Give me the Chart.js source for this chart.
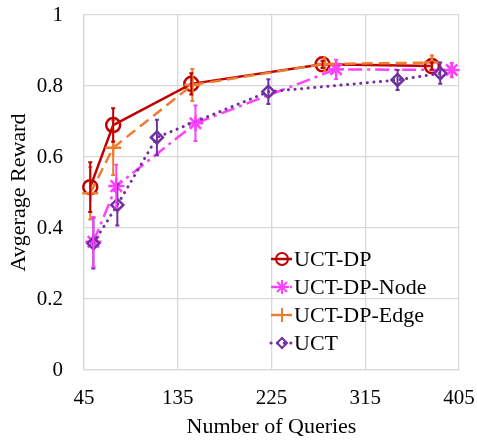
<!DOCTYPE html>
<html>
<head>
<meta charset="utf-8">
<script src="https://cdn.jsdelivr.net/npm/chart.js@4/dist/chart.umd.min.js"></script>
<style>
  html, body { margin: 0; padding: 0; background: #fff; }
  #wrap { width: 477px; height: 442px; }
</style>
</head>
<body>
<div id="wrap"><canvas id="chart-queries"></canvas></div>
<script>
// datos
const xTicks = [45, 135, 225, 315, 405];
const yTicks = [0, 0.2, 0.4, 0.6, 0.8, 1];

const dpX = [51, 73, 148, 274, 379];
const dpY = [0.515, 0.69, 0.806, 0.861, 0.856];
const dpErr = [0.07, 0.047, 0.03, 0.01, 0.01];

const nodeX = [54, 76, 152, 287, 398];
const nodeY = [0.361, 0.518, 0.695, 0.847, 0.845];
const nodeErr = [0.07, 0.06, 0.05, 0.027, 0.02];

const edgeX = [51, 73, 149, 276, 379];
const edgeY = [0.498, 0.626, 0.803, 0.862, 0.866];
const edgeErr = [0.074, 0.077, 0.045, 0.012, 0.02];

const uctX = [54, 77, 115, 222, 346, 387];
const uctY = [0.357, 0.465, 0.655, 0.784, 0.817, 0.836];
const uctErr = [0.071, 0.058, 0.05, 0.035, 0.028, 0.03];

const FONT = "'Liberation Serif', 'Times New Roman', serif";

function toPoints(xs, ys) {
  return xs.map((x, i) => ({ x: x, y: ys[i] }));
}

const series = [
  { label: "UCT-DP", xs: dpX, ys: dpY, err: dpErr, color: "#C00000",
    dash: [], style: "circle", radius: 7, width: 2.5, order: 4 },
  { label: "UCT-DP-Node", xs: nodeX, ys: nodeY, err: nodeErr, color: "#FF40FF",
    dash: [14, 5, 3, 5], style: "star", radius: 8, width: 2.5, order: 3 },
  { label: "UCT-DP-Edge", xs: edgeX, ys: edgeY, err: edgeErr, color: "#ED7D31",
    dash: [11, 6], style: "cross", radius: 8, width: 2.5, order: 2 },
  { label: "UCT", xs: uctX, ys: uctY, err: uctErr, color: "#7030A0",
    dash: [0.1, 6.5], style: "rectRot", radius: 6, width: 3, order: 1 },
];

// barras de error, dibujadas con las escalas del grafico
const errorBars = {
  id: "errorBars",
  afterDatasetsDraw(chart) {
    const ctx = chart.ctx;
    const xs = chart.scales.x;
    const ys = chart.scales.y;
    ctx.save();
    series.slice().reverse().forEach((s) => {
      ctx.strokeStyle = s.color;
      ctx.lineWidth = 2;
      ctx.setLineDash([]);
      s.xs.forEach((x, i) => {
        const px = xs.getPixelForValue(x);
        const top = ys.getPixelForValue(s.ys[i] + s.err[i]);
        const bot = ys.getPixelForValue(s.ys[i] - s.err[i]);
        ctx.beginPath();
        ctx.moveTo(px, top);
        ctx.lineTo(px, bot);
        ctx.moveTo(px - 2, top);
        ctx.lineTo(px + 2, top);
        ctx.moveTo(px - 2, bot);
        ctx.lineTo(px + 2, bot);
        ctx.stroke();
      });
    });
    ctx.restore();
  },
};

// leyenda dentro del area del grafico
const insideLegend = {
  id: "insideLegend",
  afterDraw(chart) {
    const ctx = chart.ctx;
    const x0 = 271;
    const rowsY = [259, 287, 315, 343];
    ctx.save();
    ctx.font = "22px " + FONT;
    ctx.textBaseline = "middle";
    series.forEach((s, i) => {
      const y = rowsY[i];
      ctx.strokeStyle = s.color;
      ctx.lineWidth = s.width;
      ctx.setLineDash(s.dash);
      ctx.lineCap = s.style === "rectRot" ? "round" : "butt";
      ctx.beginPath();
      ctx.moveTo(x0, y);
      ctx.lineTo(x0 + 21, y);
      ctx.stroke();
      ctx.setLineDash([]);
      ctx.lineWidth = 2;
      ctx.fillStyle = "rgba(0,0,0,0)";
      Chart.helpers.drawPoint(ctx, {
        pointStyle: s.style,
        radius: s.radius - 1,
        borderWidth: 2,
      }, x0 + 11, y);
      ctx.fillStyle = "#000";
      ctx.fillText(s.label, x0 + 23, y + 1);
    });
    ctx.restore();
  },
};

function sinPadding(axis) {
  axis.paddingTop = 0;
  axis.paddingBottom = 0;
  axis.paddingLeft = 0;
  axis.paddingRight = 0;
}

const ctx = document.getElementById("chart-queries").getContext("2d");

new Chart(ctx, {
  type: "scatter",
  data: {
    datasets: series.map((s) => ({
      label: s.label,
      data: toPoints(s.xs, s.ys),
      showLine: true,
      borderColor: s.color,
      backgroundColor: "transparent",
      borderWidth: s.width,
      borderDash: s.dash,
      borderCapStyle: s.style === "rectRot" ? "round" : "butt",
      pointStyle: s.style,
      pointRadius: s.radius,
      pointBorderWidth: 2.5,
      pointBorderColor: s.color,
      pointBackgroundColor: "transparent",
      tension: 0,
      order: s.order,
      clip: false,
    })),
  },
  options: {
    responsive: true,
    maintainAspectRatio: false,
    animation: false,
    layout: {
      padding: { top: 15, right: 18, left: 0, bottom: 0 },
    },
    plugins: {
      legend: { display: false },
      tooltip: { enabled: false },
    },
    scales: {
      x: {
        type: "linear",
        min: 45,
        max: 405,
        afterBuildTicks: (axis) => {
          axis.ticks = xTicks.map((v) => ({ value: v }));
        },
        afterFit: (axis) => {
          axis.height = 72;
          sinPadding(axis);
        },
        grid: {
          color: "#d9d9d9",
          lineWidth: 1.3,
          drawTicks: false,
        },
        border: { color: "#d9d9d9", width: 1.3 },
        ticks: {
          color: "#000",
          padding: 16,
          maxRotation: 0,
          callback: (v) => String(v),
          font: { size: 21, family: FONT },
        },
        title: {
          display: true,
          text: "Number of Queries",
          color: "#000",
          padding: { top: 0, bottom: 2 },
          font: { size: 22, family: FONT },
        },
      },
      y: {
        type: "linear",
        min: 0,
        max: 1,
        afterBuildTicks: (axis) => {
          axis.ticks = yTicks.map((v) => ({ value: v }));
        },
        afterFit: (axis) => {
          axis.width = 84;
          sinPadding(axis);
        },
        grid: {
          color: "#d9d9d9",
          lineWidth: 1.3,
          drawTicks: false,
        },
        border: { color: "#d9d9d9", width: 1.3 },
        ticks: {
          color: "#000",
          padding: 21,
          callback: (v) => String(v),
          font: { size: 21, family: FONT },
        },
        title: {
          display: true,
          text: "Avgerage Reward",
          color: "#000",
          padding: { top: 6, bottom: 0 },
          font: { size: 22, family: FONT },
        },
      },
    },
  },
  plugins: [errorBars, insideLegend],
});
</script>
</body>
</html>
